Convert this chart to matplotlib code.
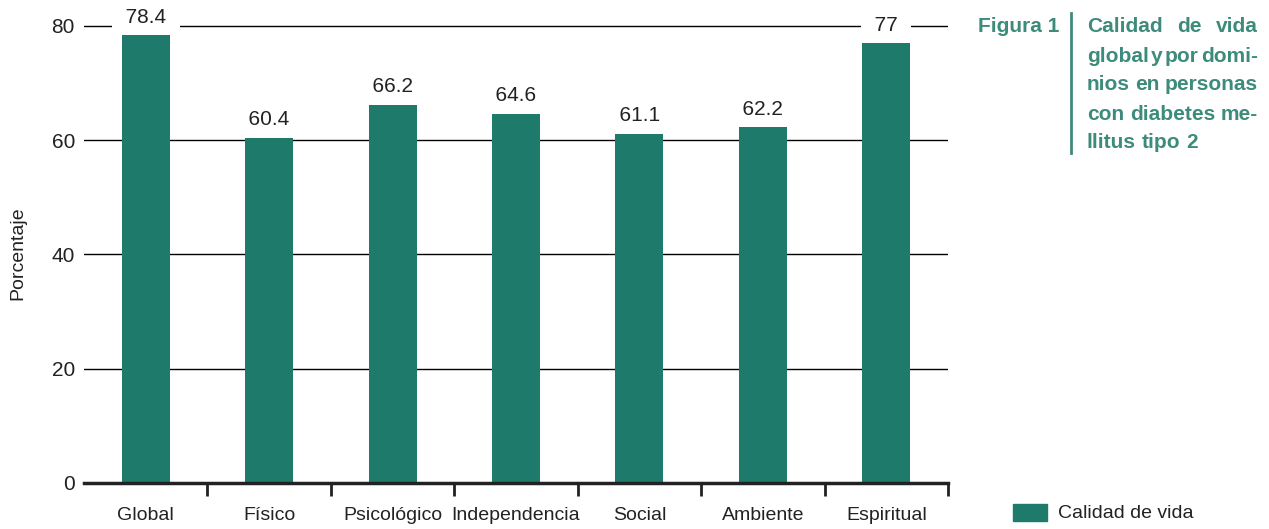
import numpy as np
import matplotlib.pyplot as plt
from matplotlib.lines import Line2D
from matplotlib.patches import Rectangle

categories = ["Global", "Físico", "Psicológico", "Independencia", "Social", "Ambiente", "Espiritual"]
values = [78.4, 60.4, 66.2, 64.6, 61.1, 62.2, 77]
value_labels = ["78.4", "60.4", "66.2", "64.6", "61.1", "62.2", "77"]
yticks = [0, 20, 40, 60, 80]
title_lines = ["Calidad de vida", "global y por domi-", "nios en personas",
               "con diabetes me-", "llitus tipo 2"]

bar_color = "#1e7b6c"
title_color = "#3d8b7b"
txt_color = "#222222"

plt.rcParams['font.family'] = ['Liberation Sans', 'DejaVu Sans']

W, H = 1269, 529
fig = plt.figure(figsize=(W / 100, H / 100), dpi=100)
ax = fig.add_axes([84 / W, 1 - 483 / H, 864 / W, 463 / H])

x = np.arange(len(categories))
bars = ax.bar(x, values, width=0.39, color=bar_color, zorder=2)
ax.set_xlim(-0.5, len(categories) - 0.5)
ax.set_ylim(0, 81)

# grid + axes
ax.set_yticks(yticks)
ax.yaxis.grid(True, color="black", lw=1)
ax.set_axisbelow(True)
for s in ["left", "right", "top"]:
    ax.spines[s].set_visible(False)
ax.spines["bottom"].set_linewidth(2.5)
ax.spines["bottom"].set_color(txt_color)
ax.spines["bottom"].set_zorder(3)
ax.tick_params(axis="y", length=0, pad=6.5, labelsize=15, labelcolor=txt_color)

ax.set_xticks(x)
ax.set_xticklabels(categories)
ax.set_xticks(np.arange(len(categories)) + 0.5, minor=True)
ax.tick_params(axis="x", which="major", length=0, pad=17, labelsize=14, labelcolor=txt_color)
ax.tick_params(axis="x", which="minor", length=9, width=2, color=txt_color, direction="out")

for xi, v, lbl in zip(x, values, value_labels):
    ax.annotate("  " + lbl + "  ", (xi, v), xytext=(0, 6), textcoords="offset points",
                ha="center", va="bottom", fontsize=15, color=txt_color, zorder=1.5,
                bbox=dict(fc="white", ec="none", boxstyle="square,pad=0.1"))

fig.text(18 / W, 1 - 253 / H, "Porcentaje", rotation=90, ha="center", va="center",
         fontsize=14, color=txt_color)

# side caption
fig.text(978 / W, 1 - 27 / H, "Figura 1", ha="left", va="center", weight="bold",
         fontsize=15, color=title_color)
fig.add_artist(Line2D([1071 / W, 1071 / W], [1 - 13 / H, 1 - 153 / H], color=title_color, lw=2))

fig.canvas.draw()
r = fig.canvas.get_renderer()
x0, x1 = 1087, 1258
kw = dict(ha="left", va="center", weight="bold", fontsize=15, color=title_color)
t_ab = fig.text(0, 0, "a b", **kw)
t_nb = fig.text(0, 0, "ab", **kw)
space = t_ab.get_window_extent(r).width - t_nb.get_window_extent(r).width
t_ab.remove()
t_nb.remove()
for i, line in enumerate(title_lines):
    y = 1 - (27 + 29 * i) / H
    words = line.split()
    txts = [fig.text(0, y, w, **kw) for w in words]
    widths = [t.get_window_extent(r).width for t in txts]
    if i == len(title_lines) - 1 or len(words) == 1:
        gap = space
    else:
        gap = (x1 - x0 - sum(widths)) / (len(words) - 1)
    pos = x0
    for t, w in zip(txts, widths):
        t.set_x(pos / W)
        pos += w + gap

# legend
fig.add_artist(Rectangle((1013 / W, 1 - 521 / H), 34 / W, 17 / H, transform=fig.transFigure,
                         color=bar_color))
fig.text(1058 / W, 1 - 513 / H, "Calidad de vida", ha="left", va="center", fontsize=14,
         color=txt_color)

fig.savefig("out.png", dpi=100)
